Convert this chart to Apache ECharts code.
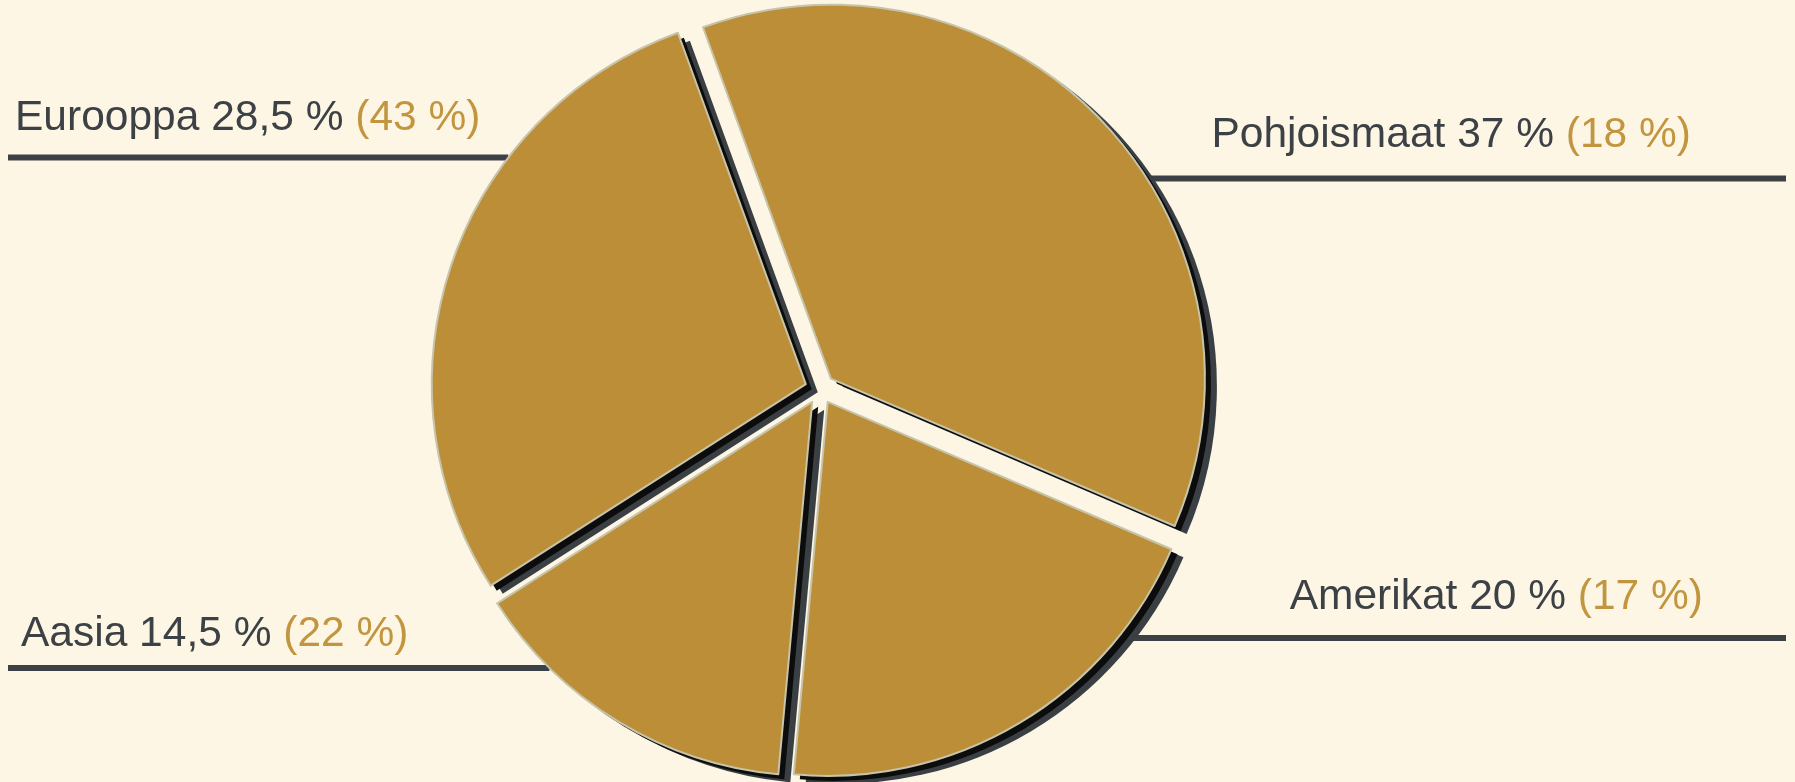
<!DOCTYPE html>
<html><head><meta charset="utf-8">
<script src="https://cdn.jsdelivr.net/npm/echarts@6/dist/echarts.min.js"></script>
<style>html,body{margin:0;padding:0;background:#fef6e5;} #c{width:1795px;height:782px;}</style>
</head><body><div id="c"></div>
<script>
// ---- data ----
const categories = ['Pohjoismaat', 'Amerikat', 'Aasia', 'Eurooppa'];
const shareValues = [37, 20, 14.5, 28.5];
const compareValues = [18, 17, 22, 43];

// ---- layout / style ----
const CX = 820, CY = 389, R = 374, OFF = 15, START = 110;
const GOLD = '#bd8e38', DARK = '#3c4146', GOLD_TEXT = '#c2953f';
const FONT = 'Liberation Sans, Arial, sans-serif';
const FONT_SIZE = 42.5;
const LINE_LEFT = 8, LINE_RIGHT = 1786;
const LABEL_POS = [
  { lineY: 178.5, textX: 1691, textY: 135.5, side: 1 },
  { lineY: 638, textX: 1703, textY: 597.5, side: 1 },
  { lineY: 668, textX: 21, textY: 634.5, side: -1 },
  { lineY: 157.5, textX: 15, textY: 118, side: -1 }
];

const total = shareValues.reduce((a, b) => a + b, 0);
function sliceCenter(i) {
  let cum = 0;
  for (let k = 0; k < i; k++) cum += shareValues[k];
  const startC = (90 - START) + 360 * cum / total;
  const mid = (startC + 180 * shareValues[i] / total) * Math.PI / 180;
  return [CX + OFF * Math.sin(mid), CY - OFF * Math.cos(mid)];
}
const fmt = v => String(v).replace('.', ',');

function dataFor(selected) {
  return categories.map((n, i) => ({ name: n, value: shareValues[i], selected: selected }));
}
function basePie(cx, cy, itemStyle, extra) {
  return Object.assign({
    type: 'pie',
    center: [cx, cy],
    radius: R,
    startAngle: START,
    clockwise: true,
    selectedMode: 'multiple',
    selectedOffset: OFF,
    avoidLabelOverlap: false,
    silent: true,
    animation: false,
    emphasis: { disabled: true, scale: false },
    label: { show: false },
    labelLine: { show: false },
    itemStyle: itemStyle,
    select: { itemStyle: itemStyle },
    data: dataFor(true)
  }, extra || {});
}

const chart = echarts.init(document.getElementById('c'));
chart.setOption({
  backgroundColor: '#fef6e5',
  animation: false,
  series: [
    basePie(CX + 12, CY + 8, { color: '#3a3f44', borderWidth: 0 }),
    basePie(CX + 6, CY + 5, { color: '#0c0c0c', borderWidth: 0 }),
    basePie(CX, CY, { color: GOLD, borderColor: '#c6c4aa', borderWidth: 2 }),
    // label carrier: same slices, not exploded, invisible
    basePie(CX, CY, { color: 'rgba(0,0,0,0)', borderWidth: 0 }, {
      selectedMode: false,
      data: dataFor(false),
      label: {
        show: true,
        position: 'outside',
        fontFamily: FONT,
        fontSize: FONT_SIZE,
        color: DARK,
        formatter: p => '{a|' + p.name + ' ' + fmt(p.value) + ' %} {b|(' + fmt(compareValues[p.dataIndex]) + ' %)}',
        rich: {
          a: { fontFamily: FONT, fontSize: FONT_SIZE, color: DARK },
          b: { fontFamily: FONT, fontSize: FONT_SIZE, color: GOLD_TEXT }
        }
      },
      labelLine: { show: true, smooth: false, lineStyle: { color: DARK, width: 6, cap: 'butt' } },
      labelLayout: function (params) {
        const i = params.dataIndex;
        const L = LABEL_POS[i];
        const c = sliceCenter(i);
        const dy = L.lineY - c[1];
        const xArc = c[0] + L.side * Math.sqrt(Math.max(0, R * R - dy * dy));
        const xEdge = L.side > 0 ? LINE_RIGHT : LINE_LEFT;
        return {
          x: L.textX,
          y: L.textY,
          align: L.side > 0 ? 'right' : 'left',
          verticalAlign: 'middle',
          labelLinePoints: [[xArc, L.lineY], [xEdge, L.lineY]]
        };
      }
    })
  ]
});
</script>
</body></html>
